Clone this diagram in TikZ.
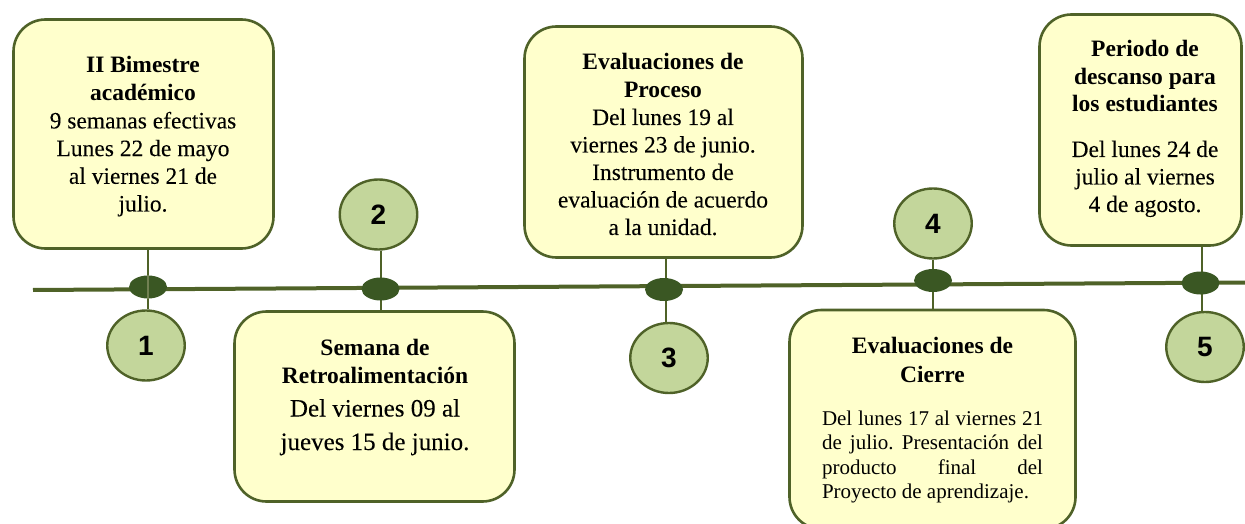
\documentclass[tikz,border=0pt]{standalone}
\usepackage{fontspec}
\setmainfont{Liberation Serif}
\newfontfamily\bodyrm{Liberation Serif}[FakeBold=0.05]
\newfontfamily\numfont{Liberation Sans}
\usetikzlibrary{shapes.geometric}
\definecolor{tlolive}{HTML}{4F6228}
\definecolor{tlyellow}{HTML}{FFFFCC}
\definecolor{tlcircle}{HTML}{C3D69B}
\definecolor{tldot}{HTML}{3A5723}
\newcommand\tbx[2]{\parbox[t]{#1}{\frenchspacing #2}}
\newcommand\ttl[1]{{\rmfamily\bfseries #1}}
\begin{document}
\begin{tikzpicture}[x=1pt,y=-1pt,
  box/.style={draw=tlolive, line width=2.6pt, fill=tlyellow, rounded corners=32pt, inner sep=0pt},
  num/.style={ellipse, draw=tlolive, line width=2.4pt, fill=tlcircle, inner sep=0pt,
    minimum width=77.5pt, minimum height=70pt, font=\numfont\bfseries\fontsize{28}{30}\selectfont},
  dotn/.style={ellipse, fill=tldot, minimum width=38pt, minimum height=23pt, inner sep=0pt},
  conn/.style={draw=tlolive, line width=2pt},
  mainline/.style={draw=tlolive, line width=4pt},
  txt/.style={inner sep=0pt, anchor=base}]
\useasboundingbox (0,0) rectangle (1245,524);
\clip (0,0) rectangle (1245,524);
% boxes
\node[box, minimum width=260pt, minimum height=229pt] (b1) at (143.5,134) {};
\node[box, minimum width=280pt, minimum height=190pt] (b2) at (374.5,406.5) {};
\node[box, minimum width=278pt, minimum height=231pt] (b3) at (663.5,142) {};
\node[box, minimum width=286pt, minimum height=219pt] (b4) at (932.5,419.5) {};
\node[box, minimum width=202pt, minimum height=231pt] (b5) at (1140.5,130) {};
% circles
\node[num] (c1) at (146,345.5) {1};
\node[num] (c2) at (378.5,214.5) {2};
\node[num] (c3) at (669,358) {3};
\node[num] (c4) at (933,223.5) {4};
\node[num] (c5) at (1205,347) {5};
% line ends
\coordinate (L) at (33,290);
\coordinate (R) at (1246,282.5);
\path (148,287) coordinate (p1) (381,289) coordinate (p2) (666,289.5) coordinate (p3)
      (933,280.5) coordinate (p4) (1202,283) coordinate (p5);
% connectors
\draw[conn] (b1.south -| p1) -- (c1.north -| p1);
\draw[conn] (c2.south -| p2) -- (b2.north -| p2);
\draw[conn] (b3.south -| p3) -- (c3.north -| p3);
\draw[conn] (c4.south -| p4) -- (b4.north -| p4);
\draw[conn] (b5.south -| p5) -- (c5.north -| p5);
\draw[mainline] (L) -- (R);
\node[dotn] (d1) at (148,287) {};
\node[dotn] (d2) at (380.5,289) {};
\node[dotn] (d3) at (664,289.5) {};
\node[dotn] (d4) at (933,280.5) {};
\node[dotn] (d5) at (1200.5,283) {};
\draw[conn, tlolive!80] (d1.north -| p1) -- (d1.south -| p1);
% texts
\node[txt] (t1) at (143,73) {\tbx{250pt}{\centering\fontsize{23.5}{27.7}\selectfont
  \ttl{II Bimestre\\académico}\\\bodyrm 9 semanas efectivas\\Lunes 22 de mayo\\al viernes 21 de\\julio.}};
\node[txt] (t3) at (663,70) {\tbx{270pt}{\centering\fontsize{23.5}{27.5}\selectfont
  \ttl{Evaluaciones de\\Proceso}\\\bodyrm Del lunes 19 al\\viernes 23 de junio.\\Instrumento de\\evaluación de acuerdo\\a la unidad.}};
\node[txt] (t5) at (1145,57) {\tbx{200pt}{\centering\fontsize{23.5}{27.5}\selectfont
  \ttl{Periodo de\\descanso para\\los estudiantes}\par\vspace{17.5pt}
  \bodyrm Del lunes 24 de\\julio al viernes\\4 de agosto.}};
\node[txt] (t2) at (375,355) {\tbx{270pt}{\centering
  {\fontsize{23.5}{28}\selectfont\bfseries Semana de\\Retroalimentación\par}
  {\bodyrm\fontsize{25}{33.5}\selectfont Del viernes 09 al\\jueves 15 de junio.\par}}};
\node[txt] (t4) at (932.5,353) {\tbx{221pt}{%
  {\centering\fontsize{23.5}{29}\selectfont\bfseries Evaluaciones de\\Cierre\par}\vspace{18.5pt}%
  {\fontsize{21}{24.5}\selectfont Del lunes 17 al viernes 21\linebreak de julio. Presentación del\linebreak producto final del\linebreak Proyecto de aprendizaje.\par}}};
\end{tikzpicture}
\end{document}
